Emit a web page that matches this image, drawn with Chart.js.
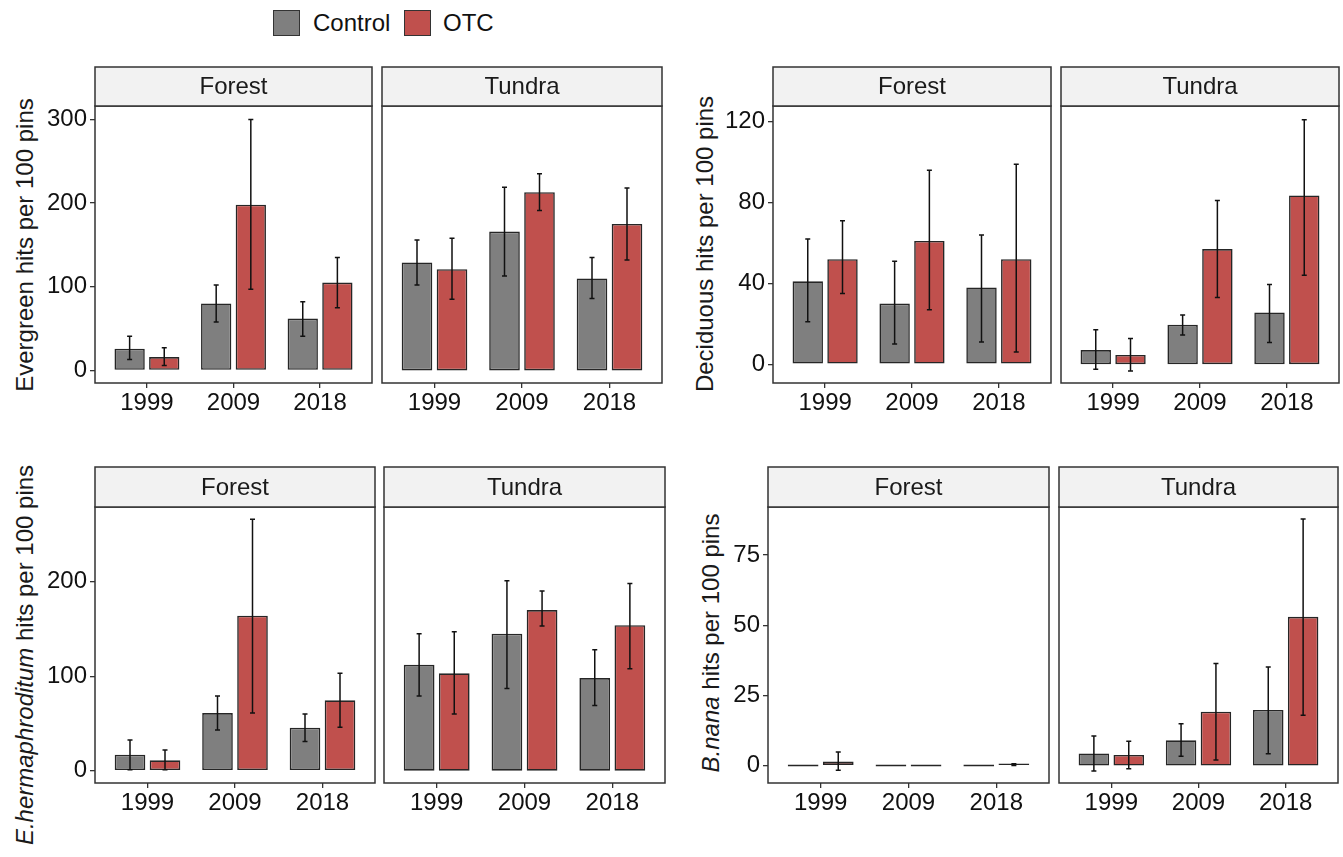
<!DOCTYPE html>
<html>
<head>
<meta charset="utf-8">
<script src="https://cdn.jsdelivr.net/npm/chart.js@4.4.1/dist/chart.umd.min.js"></script>
<style>
  body { margin: 0; background: #fff; font-family: "Liberation Sans", Arial, sans-serif; }
  #wrap { position: relative; width: 1343px; height: 857px; overflow: hidden; background: #fff; }
  #wrap canvas { position: absolute; }
  .ytitle { position: absolute; white-space: nowrap; font-size: 24px; color: #1a1a1a;
            transform: translate(-50%, -50%) rotate(-90deg); }
  .swatch { position: absolute; width: 25px; height: 24px; border: 1.5px solid #333; }
  .ltext { position: absolute; font-size: 24px; color: #111; line-height: 28px; }
</style>
</head>
<body>
<div id="wrap">
  <div class="swatch" style="left:273px;top:10px;background:#7f7f7f"></div>
  <div class="ltext" style="left:313px;top:9px">Control</div>
  <div class="swatch" style="left:404px;top:10px;background:#c0504d"></div>
  <div class="ltext" style="left:443px;top:9px">OTC</div>

  <div class="ytitle" style="left:25px;top:245px">Evergreen hits per 100 pins</div>
  <div class="ytitle" style="left:705px;top:244px">Deciduous hits per 100 pins</div>
  <div class="ytitle" style="left:25px;top:655px"><i>E.hermaphroditum</i> hits per 100 pins</div>
  <div class="ytitle" style="left:711px;top:643px"><i>B.nana</i> hits per 100 pins</div>
</div>
<script>
  // categories
  const years = ['1999', '2009', '2018'];
  const yearPos = [1, 2, 3];

  // Evergreen
  const evgForestCtrl = [26, 80, 62];
  const evgForestCtrlLo = [13, 58, 41];
  const evgForestCtrlHi = [41, 102, 82];
  const evgForestOtc = [16, 198, 105];
  const evgForestOtcLo = [6, 97, 75];
  const evgForestOtcHi = [27, 300, 135];
  const evgTundraCtrl = [129, 166, 110];
  const evgTundraCtrlLo = [102, 113, 86];
  const evgTundraCtrlHi = [156, 219, 135];
  const evgTundraOtc = [121, 213, 175];
  const evgTundraOtcLo = [85, 191, 132];
  const evgTundraOtcHi = [158, 235, 218];
  const evgTicks = [0, 100, 200, 300];

  // Deciduous
  const decForestCtrl = [41, 30, 38];
  const decForestCtrlLo = [21, 10, 11];
  const decForestCtrlHi = [62, 51, 64];
  const decForestOtc = [52, 61, 52];
  const decForestOtcLo = [35, 27, 6];
  const decForestOtcHi = [71, 96, 99];
  const decTundraCtrl = [7, 19.5, 25.6];
  const decTundraCtrlLo = [-2.5, 14.5, 10.7];
  const decTundraCtrlHi = [17, 24.3, 39.5];
  const decTundraOtc = [4.6, 57, 83.5];
  const decTundraOtcLo = [-3.3, 33, 44];
  const decTundraOtcHi = [12.7, 81, 121];
  const decTicks = [0, 40, 80, 120];

  // E. hermaphroditum
  const eheForestCtrl = [17, 61, 45.5];
  const eheForestCtrlLo = [1, 43, 31];
  const eheForestCtrlHi = [32.5, 79, 60];
  const eheForestOtc = [11, 164, 74.5];
  const eheForestOtcLo = [1, 61, 46];
  const eheForestOtcHi = [22, 266, 103];
  const eheTundraCtrl = [112, 145, 98];
  const eheTundraCtrlLo = [79, 87, 69];
  const eheTundraCtrlHi = [145, 201, 128];
  const eheTundraOtc = [103, 170, 154];
  const eheTundraOtcLo = [60, 153, 108];
  const eheTundraOtcHi = [147, 190, 198];
  const eheTicks = [0, 100, 200];

  // B. nana
  const bnaForestCtrl = [0, 0, 0];
  const bnaForestCtrlLo = [0, 0, 0];
  const bnaForestCtrlHi = [0, 0, 0];
  const bnaForestOtc = [1.5, 0, 0.3];
  const bnaForestOtcLo = [-1.7, 0, 0];
  const bnaForestOtcHi = [4.8, 0, 0.7];
  const bnaTundraCtrl = [4.3, 9, 19.8];
  const bnaTundraCtrlLo = [-1.9, 3.3, 4.2];
  const bnaTundraCtrlHi = [10.5, 14.9, 35.1];
  const bnaTundraOtc = [3.8, 19.2, 53];
  const bnaTundraOtcLo = [-1.1, 2, 17.9];
  const bnaTundraOtcHi = [8.7, 36.4, 87.8];
  const bnaTicks = [0, 25, 50, 75];

  const FONT = '"Liberation Sans", Arial, sans-serif';
  const CTRL_COLOR = '#7f7f7f';
  const OTC_COLOR = '#c0504d';
  const XH = 40;   // x axis band height
  const AX = 80;   // y axis band width

  // strip, panel border and error bars
  const facetPlugin = {
    id: 'facet',
    afterDatasetsDraw(chart) {
      const ctx = chart.ctx, y = chart.scales.y;
      ctx.save();
      ctx.strokeStyle = '#111';
      ctx.lineWidth = 1.5;
      chart.data.datasets.forEach((ds, d) => {
        chart.getDatasetMeta(d).data.forEach((bar, i) => {
          const lo = ds.errLo[i], hi = ds.errHi[i];
          if (lo === hi) return;
          const x = bar.x, yl = y.getPixelForValue(lo), yh = y.getPixelForValue(hi);
          ctx.beginPath();
          ctx.moveTo(x, yl); ctx.lineTo(x, yh);
          ctx.moveTo(x - 2.5, yl); ctx.lineTo(x + 2.5, yl);
          ctx.moveTo(x - 2.5, yh); ctx.lineTo(x + 2.5, yh);
          ctx.stroke();
        });
      });
      ctx.restore();
    },
    afterDraw(chart, args, opts) {
      const ctx = chart.ctx, a = chart.chartArea;
      ctx.save();
      ctx.strokeStyle = '#333';
      ctx.lineWidth = 1.5;
      ctx.strokeRect(a.left, a.top, a.right - a.left, a.bottom - a.top);
      ctx.fillStyle = '#f2f2f2';
      ctx.fillRect(a.left, a.top - opts.stripH, a.right - a.left, opts.stripH);
      ctx.strokeRect(a.left, a.top - opts.stripH, a.right - a.left, opts.stripH);
      ctx.fillStyle = '#1a1a1a';
      ctx.font = '24px ' + FONT;
      ctx.textAlign = 'center';
      ctx.textBaseline = 'middle';
      ctx.fillText(opts.label, (a.left + a.right) / 2, a.top - opts.stripH / 2 + 1);
      ctx.restore();
    }
  };

  function makeFacet(g, label, showY, yMin, yMax, yTicks, ctrl, ctrlLo, ctrlHi, otc, otcLo, otcHi) {
    const padL = showY ? 0 : 2;
    const ax = showY ? AX : 0;
    const stripH = g.sb - g.st;
    const canvas = document.createElement('canvas');
    canvas.width = ax + padL + (g.r - g.l) + 2;
    canvas.height = 2 + (g.pb - g.st) + XH;
    canvas.style.left = (g.l - ax - padL) + 'px';
    canvas.style.top = (g.st - 2) + 'px';
    canvas.style.width = canvas.width + 'px';
    canvas.style.height = canvas.height + 'px';
    document.getElementById('wrap').appendChild(canvas);

    const barStyle = {
      borderColor: '#262626',
      borderWidth: 1.6,
      borderSkipped: false,
      minBarLength: 2,
      categoryPercentage: 0.8,
      barPercentage: 0.875
    };

    new Chart(canvas.getContext('2d'), {
      type: 'bar',
      data: {
        datasets: [
          Object.assign({
            label: 'Control',
            data: yearPos.map((x, i) => ({ x: x, y: ctrl[i] })),
            errLo: ctrlLo, errHi: ctrlHi,
            backgroundColor: CTRL_COLOR
          }, barStyle),
          Object.assign({
            label: 'OTC',
            data: yearPos.map((x, i) => ({ x: x, y: otc[i] })),
            errLo: otcLo, errHi: otcHi,
            backgroundColor: OTC_COLOR
          }, barStyle)
        ]
      },
      options: {
        responsive: false,
        animation: false,
        devicePixelRatio: 1,
        layout: { padding: { left: padL, top: stripH + 2, right: 2, bottom: 0 } },
        plugins: {
          legend: { display: false },
          tooltip: { enabled: false },
          facet: { label: label, stripH: stripH }
        },
        scales: {
          x: {
            type: 'linear',
            min: 0.4,
            max: 3.6,
            offset: false,
            afterBuildTicks: s => { s.ticks = yearPos.map(v => ({ value: v })); },
            afterFit: s => { s.height = XH; },
            ticks: {
              callback: v => years[yearPos.indexOf(v)],
              font: { family: FONT, size: 24 },
              color: '#111',
              padding: 1,
              maxRotation: 0
            },
            grid: { offset: false, drawOnChartArea: false, drawTicks: true, tickLength: 5, color: '#333', lineWidth: 1.3 },
            border: { display: false }
          },
          y: {
            display: showY,
            min: yMin,
            max: yMax,
            afterBuildTicks: s => { s.ticks = yTicks.map(v => ({ value: v })); },
            afterFit: s => { s.width = ax; },
            ticks: {
              font: { family: FONT, size: 24 },
              color: '#111',
              padding: 3
            },
            grid: { drawOnChartArea: false, drawTicks: true, tickLength: 5, color: '#333', lineWidth: 1.3 },
            border: { display: false }
          }
        }
      },
      plugins: [facetPlugin]
    });
  }

  // Evergreen
  makeFacet({ l: 95, r: 372, st: 67, sb: 106, pb: 383 }, 'Forest', true, -15, 316, evgTicks,
    evgForestCtrl, evgForestCtrlLo, evgForestCtrlHi, evgForestOtc, evgForestOtcLo, evgForestOtcHi);
  makeFacet({ l: 382, r: 662, st: 67, sb: 106, pb: 383 }, 'Tundra', false, -15, 316, evgTicks,
    evgTundraCtrl, evgTundraCtrlLo, evgTundraCtrlHi, evgTundraOtc, evgTundraOtcLo, evgTundraOtcHi);

  // Deciduous
  makeFacet({ l: 773, r: 1051, st: 67, sb: 106, pb: 383 }, 'Forest', true, -9.3, 127.8, decTicks,
    decForestCtrl, decForestCtrlLo, decForestCtrlHi, decForestOtc, decForestOtcLo, decForestOtcHi);
  makeFacet({ l: 1061, r: 1339, st: 67, sb: 106, pb: 383 }, 'Tundra', false, -9.3, 127.8, decTicks,
    decTundraCtrl, decTundraCtrlLo, decTundraCtrlHi, decTundraOtc, decTundraOtcLo, decTundraOtcHi);

  // E. hermaphroditum
  makeFacet({ l: 95, r: 375, st: 467, sb: 507, pb: 783 }, 'Forest', true, -13, 279, eheTicks,
    eheForestCtrl, eheForestCtrlLo, eheForestCtrlHi, eheForestOtc, eheForestOtcLo, eheForestOtcHi);
  makeFacet({ l: 384, r: 665, st: 467, sb: 507, pb: 783 }, 'Tundra', false, -13, 279, eheTicks,
    eheTundraCtrl, eheTundraCtrlLo, eheTundraCtrlHi, eheTundraOtc, eheTundraOtcLo, eheTundraOtcHi);

  // B. nana
  makeFacet({ l: 768, r: 1049, st: 467, sb: 507, pb: 783 }, 'Forest', true, -6.2, 92.1, bnaTicks,
    bnaForestCtrl, bnaForestCtrlLo, bnaForestCtrlHi, bnaForestOtc, bnaForestOtcLo, bnaForestOtcHi);
  makeFacet({ l: 1059, r: 1338, st: 467, sb: 507, pb: 783 }, 'Tundra', false, -6.2, 92.1, bnaTicks,
    bnaTundraCtrl, bnaTundraCtrlLo, bnaTundraCtrlHi, bnaTundraOtc, bnaTundraOtcLo, bnaTundraOtcHi);
</script>
</body>
</html>
